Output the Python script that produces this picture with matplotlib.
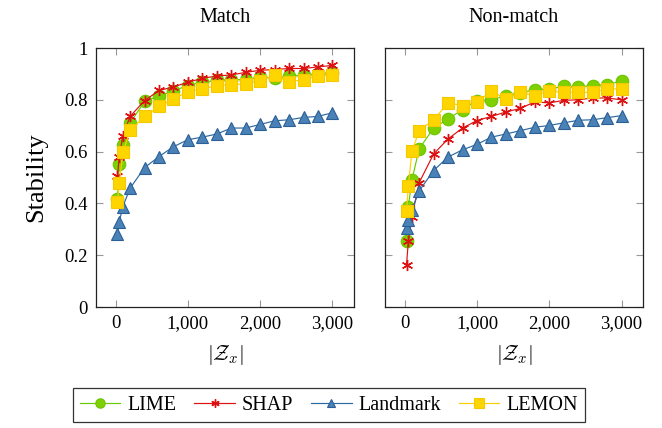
import matplotlib
matplotlib.use("Agg")
import matplotlib.pyplot as plt
from matplotlib.ticker import FuncFormatter

plt.rcParams['font.family'] = ['Liberation Serif', 'DejaVu Serif']
plt.rcParams['mathtext.fontset'] = 'cm'

sizes = [25, 50, 100, 200, 400, 600, 800, 1000, 1200, 1400, 1600, 1800,
         2000, 2200, 2400, 2600, 2800, 3000]

match_lime = [0.417, 0.553, 0.627, 0.711, 0.794, 0.814, 0.835, 0.855, 0.868,
              0.875, 0.878, 0.878, 0.888, 0.885, 0.891, 0.895, 0.900, 0.905]
match_shap = [0.507, 0.581, 0.662, 0.736, 0.797, 0.836, 0.850, 0.868, 0.883,
              0.892, 0.896, 0.906, 0.914, 0.917, 0.921, 0.921, 0.927, 0.933]
match_landmark = [0.282, 0.330, 0.388, 0.459, 0.538, 0.581, 0.619, 0.646, 0.656,
                  0.668, 0.691, 0.691, 0.705, 0.719, 0.723, 0.732, 0.736, 0.750]
match_lemon = [0.404, 0.478, 0.597, 0.682, 0.736, 0.775, 0.803, 0.832, 0.842,
               0.855, 0.859, 0.861, 0.874, 0.894, 0.869, 0.878, 0.891, 0.897]

nonmatch_lime = [0.253, 0.388, 0.491, 0.611, 0.691, 0.726, 0.762, 0.797, 0.800,
                 0.816, 0.827, 0.839, 0.842, 0.852, 0.850, 0.855, 0.859, 0.872]
nonmatch_shap = [0.163, 0.253, 0.349, 0.480, 0.591, 0.649, 0.691, 0.720, 0.736,
                 0.753, 0.767, 0.792, 0.788, 0.798, 0.800, 0.807, 0.807, 0.800]
nonmatch_landmark = [0.305, 0.336, 0.375, 0.448, 0.527, 0.579, 0.607, 0.628, 0.656,
                     0.668, 0.681, 0.694, 0.701, 0.711, 0.721, 0.723, 0.731, 0.739]
nonmatch_lemon = [0.370, 0.468, 0.601, 0.681, 0.723, 0.788, 0.778, 0.793, 0.833,
                  0.803, 0.829, 0.816, 0.834, 0.829, 0.829, 0.829, 0.842, 0.842]

methods = ["LIME", "SHAP", "Landmark", "LEMON"]
panels = ["Match", "Non-match"]
y_ticks = [0, 0.2, 0.4, 0.6, 0.8, 1]
y_tick_labels = ["0", "0.2", "0.4", "0.6", "0.8", "1"]
x_ticks = [0, 1000, 2000, 3000]

styles = {
    "LIME": dict(color="#66cc00", marker="o", mfc="#7ed000", mec="#6cc400", ms=9),
    "SHAP": dict(color="#dd1111", marker=(6, 2, 0), mfc="#dd1111", mec="#dd1111", ms=8, mew=1.0),
    "Landmark": dict(color="#2b6aa3", marker="^", mfc="#4a82b8", mec="#2b5f95", ms=8.5),
    "LEMON": dict(color="#ffd000", marker="s", mfc="#ffd500", mec="#f5c800", ms=9),
}

data = {
    "Match": [match_lime, match_shap, match_landmark, match_lemon],
    "Non-match": [nonmatch_lime, nonmatch_shap, nonmatch_landmark, nonmatch_lemon],
}

fig = plt.figure(figsize=(6.62, 4.28), dpi=100)
ax1 = fig.add_axes([0.1450, 0.2827, 0.3897, 0.6051])
ax2 = fig.add_axes([0.5816, 0.2827, 0.3897, 0.6051])

fmt = FuncFormatter(lambda v, p: f"{int(round(v)):,}")
handles = []
for ax, panel in zip([ax1, ax2], panels):
    for name, vals in zip(methods, data[panel]):
        st = styles[name]
        h, = ax.plot(sizes, vals, color=st["color"], lw=0.85, marker=st["marker"],
                     markerfacecolor=st["mfc"], markeredgecolor=st["mec"],
                     markersize=st["ms"], markeredgewidth=st.get("mew", 0.8),
                     label=name)
        if ax is ax1:
            handles.append(h)
    ax.set_xlim(-272.5, 3297.5)
    ax.set_ylim(0, 1)
    ax.set_xticks(x_ticks)
    ax.xaxis.set_major_formatter(fmt)
    ax.set_yticks(y_ticks)
    ax.set_title(panel, fontsize=14.5, pad=19)
    ax.set_xlabel(r"$|\mathcal{Z}_x|$", fontsize=15, labelpad=8)
    ax.tick_params(direction="in", length=5, width=0.8, color="#999999",
                   top=True, right=True, labelsize=13.5, pad=6)
    for sp in ax.spines.values():
        sp.set_linewidth(0.9)
        sp.set_color("#222222")

ax1.set_yticklabels(y_tick_labels)
ax2.set_yticklabels([])
ax1.set_ylabel("Stability", fontsize=19, labelpad=12)

leg = fig.legend(handles=handles, labels=methods, loc="center",
                 bbox_to_anchor=(0.497, 0.0537), ncol=4, fontsize=14.5,
                 frameon=True, fancybox=False, edgecolor="black",
                 handlelength=2.0, handletextpad=0.35, columnspacing=0.9,
                 borderpad=0.35, markerscale=0.75)
leg.get_frame().set_linewidth(0.9)

fig.savefig("out.png", dpi=100)
